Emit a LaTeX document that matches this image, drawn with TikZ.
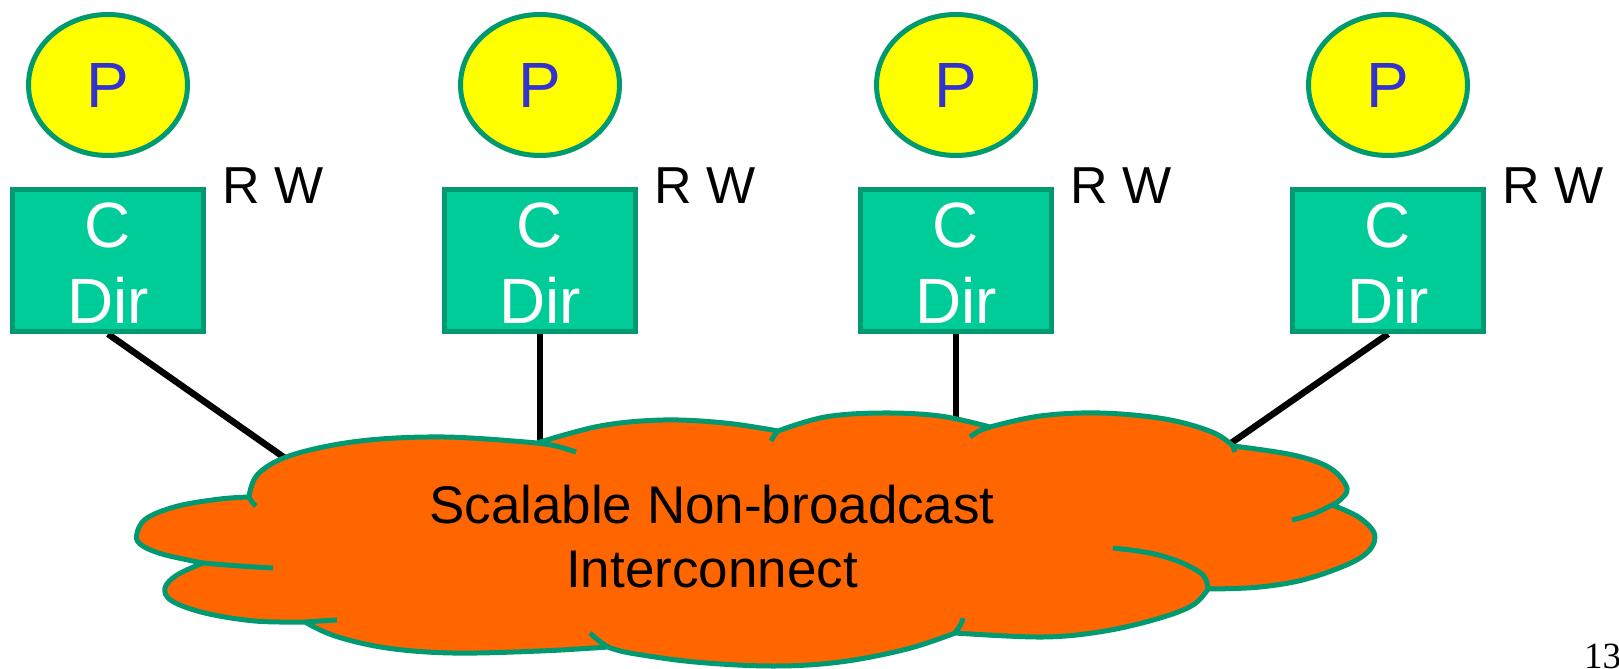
\documentclass[tikz,border=0pt]{standalone}
\usepackage{fontspec}
\setmainfont{Liberation Sans}
\newfontfamily\pagenumfont{Liberation Serif}
\usetikzlibrary{shapes.geometric}

\definecolor{procfill}{RGB}{255,255,0}
\definecolor{tealline}{RGB}{0,153,112}
\definecolor{cachefill}{RGB}{0,204,153}
\definecolor{netfill}{RGB}{255,102,0}
\definecolor{pblue}{RGB}{51,51,204}

\pgfdeclarelayer{links}
\pgfsetlayers{links,main}

\tikzset{
  proc/.style={ellipse, draw=tealline, line width=5pt, fill=procfill,
    minimum width=159pt, minimum height=141pt, inner sep=0pt,
    text=pblue, font=\fontsize{64}{77}\selectfont},
  cachebox/.style={rectangle, draw=tealline, line width=5pt, fill=cachefill,
    minimum width=191pt, minimum height=142pt, inner sep=0pt},
  boxtext/.style={text=white, font=\fontsize{64}{77}\selectfont,
    inner sep=0pt, anchor=base},
  rwlabel/.style={font=\fontsize{52}{62}\selectfont, inner sep=0pt,
    anchor=base west},
  netlabel/.style={font=\fontsize{53}{64}\selectfont, inner sep=0pt,
    anchor=base},
  link/.style={line width=6.5pt, black},
  cloudline/.style={draw=tealline, line width=5pt, line join=round},
  bump/.style={smooth, tension=0.6},
}

\begin{document}
\begin{tikzpicture}[x=1pt, y=-1pt]
\useasboundingbox (0,0) rectangle (1619,669);

% processors, caches with directories, and the R/W labels
\foreach \i/\cx in {1/108, 2/540, 3/956, 4/1388} {
  \node[proc] (p\i) at (\cx,85) {P};
  \node[cachebox] (c\i) at (\cx,260.5) {};
  \node[boxtext] (cc\i) at (\cx,247) {C};
  \node[boxtext] (cd\i) at (\cx,323) {Dir};
  \node[rwlabel] (rw\i) at (\cx+114,203) {R W};
}

% points where the links enter the network
\coordinate (n1) at (292,463);
\coordinate (n2) at (540,452);
\coordinate (n3) at (956,428);
\coordinate (n4) at (1224,448);

% links from each cache to the network, kept under boxes and cloud
\begin{pgfonlayer}{links}
\draw[link] (c1.south) -- (n1);
\draw[link] (c2.south) -- (n2);
\draw[link] (c3.south) -- (n3);
\draw[link] (c4.south) -- (n4);
\end{pgfonlayer}

% the interconnect cloud, one smooth arc per bump
\path[cloudline, fill=netfill]
  plot[bump] coordinates {(249,497) (258,474) (292,455) (360,441) (445,437) (537,443)}
  -- plot[bump] coordinates {(537,443) (600,426) (663,420) (725,423) (778,431)}
  -- plot[bump] coordinates {(778,431) (825,417) (882,413) (940,416) (990,427)}
  -- plot[bump] coordinates {(990,427) (1040,416) (1100,413) (1165,419) (1212,432) (1233,446)}
  -- plot[bump] coordinates {(1233,446) (1293,455) (1330,468) (1347,488) (1340,500) (1332,505)}
  -- plot[bump] coordinates {(1332,505) (1360,518) (1375,537) (1360,558) (1310,578) (1260,587) (1208,589)}
  -- plot[bump] coordinates {(1208,589) (1193,605) (1160,618) (1105,631) (1043,637) (955,633)}
  -- plot[bump] coordinates {(955,633) (907,649) (840,662) (773,666) (695,662) (630,653) (608,647)}
  -- plot[bump] coordinates {(608,647) (540,651) (453,653) (387,648) (335,636) (305,622)}
  -- plot[bump] coordinates {(305,622) (255,621) (205,613) (172,601) (165,588) (177,575) (203,563)}
  -- plot[bump] coordinates {(203,563) (162,554) (140,544) (137,533) (147,518) (178,506) (220,499) (249,497)}
  -- cycle;

% inner ends of the bumps
\draw[cloudline] plot[bump] coordinates {(537,443) (556,446) (576,452)};
\draw[cloudline] plot[bump] coordinates {(778,431) (774,436) (771,441)};
\draw[cloudline] plot[bump] coordinates {(990,427) (979,431) (970,437)};
\draw[cloudline] (1233,446) -- (1235,452);
\draw[cloudline] plot[bump] coordinates {(1332,505) (1313,514) (1292,520)};
\draw[cloudline] plot[bump] coordinates {(1208,589) (1203,575) (1180,562) (1150,553) (1113,548)};
\draw[cloudline] plot[bump] coordinates {(955,633) (961,624) (963,618)};
\draw[cloudline] plot[bump] coordinates {(608,647) (598,640) (590,633)};
\draw[cloudline] plot[bump] coordinates {(305,622) (320,621) (337,620)};
\draw[cloudline] plot[bump] coordinates {(203,563) (240,566) (273,568)};
\draw[cloudline] plot[bump] coordinates {(249,497) (252,502) (256,506)};

% network label
\node[netlabel] (net1) at (712,523) {Scalable Non-broadcast};
\node[netlabel] (net2) at (712,587) {Interconnect};

% page number
\node[font=\pagenumfont\fontsize{37}{44}\selectfont, inner sep=0pt,
  anchor=base west] (pg) at (1584,668) {13};
\end{tikzpicture}
\end{document}
